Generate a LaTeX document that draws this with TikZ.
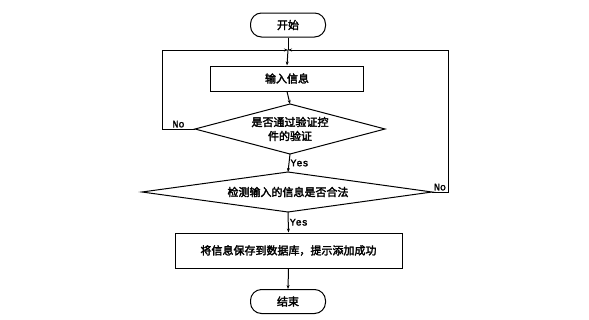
\documentclass[tikz,border=0pt]{standalone}
\usepackage{fontspec}
\setmainfont{Noto Sans CJK SC}[UprightFeatures={FakeBold=2.5}]
\newfontfamily\latinfont{Liberation Mono}[UprightFeatures={FakeBold=2}]
\usetikzlibrary{shapes.geometric,arrows.meta}
\begin{document}
\begin{tikzpicture}[x=1pt,y=-1pt,line width=1pt,
  every node/.style={font=\fontsize{11}{14}\selectfont},
  term/.style={draw,rounded corners=11pt,minimum width=75pt,minimum height=24pt,inner sep=0pt},
  proc/.style={draw,inner sep=0pt},
  lbl/.style={font=\fontsize{10}{12}\selectfont\latinfont,inner sep=1pt},
  arr/.style={-{Stealth[length=4pt,width=3pt]}}]
\useasboundingbox (0,0) rectangle (589,319);
\node[term] (start) at (288,25) {开始};
\node[proc,minimum width=153pt,minimum height=25pt] (input) at (287,78.5) {输入信息};
\coordinate (d1l) at (195,129);
\coordinate (d1r) at (385,129);
\coordinate (d1t) at (290,104);
\coordinate (d1b) at (290,154);
\draw (d1l) -- (d1t) -- (d1r) -- (d1b) -- cycle;
\node[align=center] (d1text) at (290,129) {是否通过验证控\\件的验证};
\coordinate (d2l) at (142,192);
\coordinate (d2r) at (432,192);
\coordinate (d2t) at (288,172);
\coordinate (d2b) at (288,212);
\draw (d2l) -- (d2t) -- (d2r) -- (d2b) -- cycle;
\node (d2text) at (288,192) {检测输入的信息是否合法};
\node[proc,minimum width=227pt,minimum height=35pt] (save) at (288.5,250.5) {将信息保存到数据库，提示添加成功};
\node[term] (end) at (288,301.5) {结束};
\coordinate (j) at (288,50);
\coordinate (lc) at (162,50);
\coordinate (lb) at (162,129);
\coordinate (rc) at (448,50);
\coordinate (rb) at (448,192);
\draw (start.south) -- (j);
\draw[arr] (j) -- (input.north);
\draw[arr] (input.south) -- (d1t);
\draw[arr] (d1b) -- node[lbl,right,pos=0.5]{Yes} (d2t);
\draw[arr] (d2b) -- node[lbl,right,pos=0.5]{Yes} (save.north);
\draw[arr] (save.south) -- (end.north);
\draw[arr] (d1l) -- node[lbl,above,pos=0.5]{No} (lb) -- (lc) -- (j);
\draw[arr] (d2r) -- node[lbl,above,pos=0.5]{No} (rb) -- (rc) -- (j);
\end{tikzpicture}
\end{document}
